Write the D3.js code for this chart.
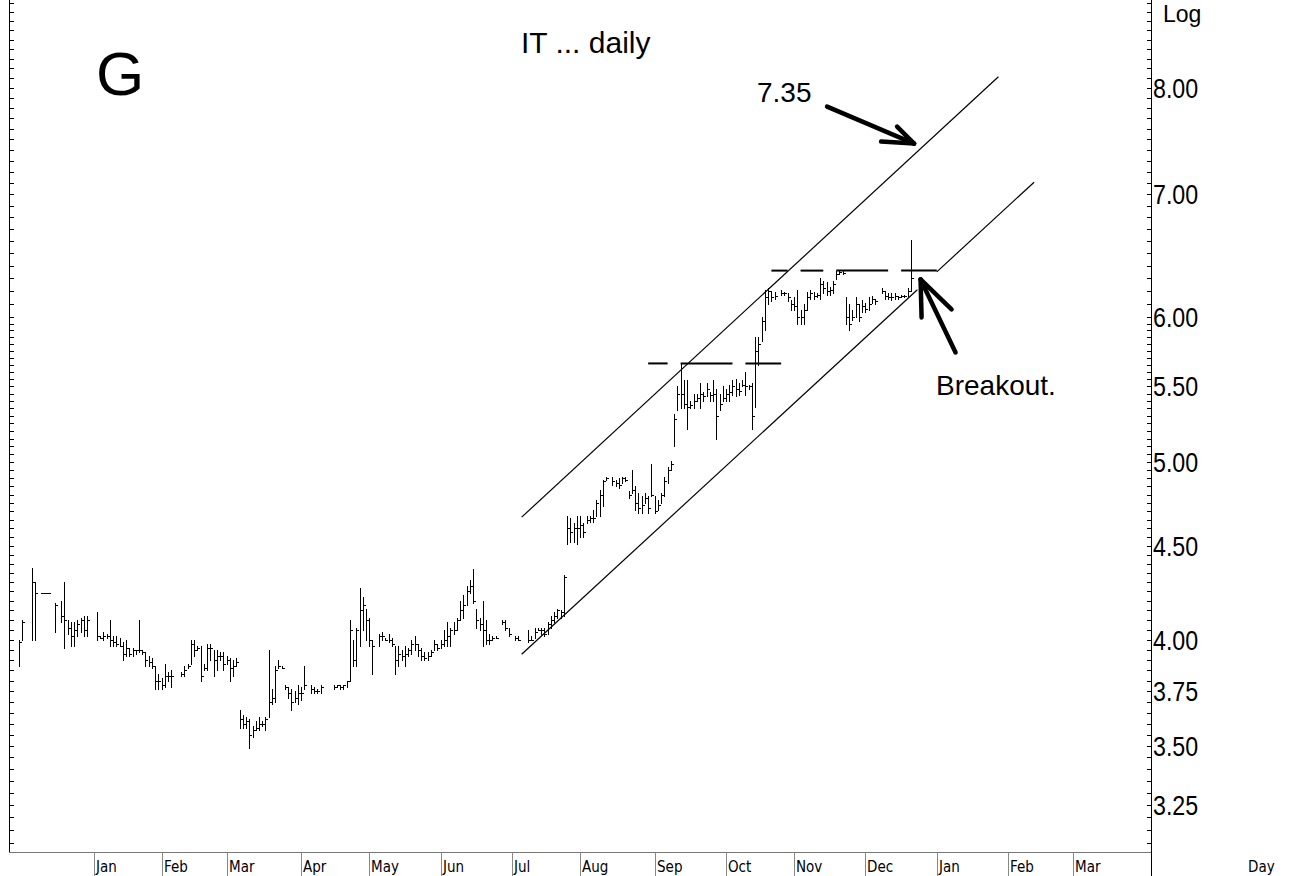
<!DOCTYPE html>
<html><head><meta charset="utf-8">
<script src="https://cdn.jsdelivr.net/npm/d3@7"></script>
<style>
html,body{margin:0;padding:0;background:#fff;}
svg{display:block;}
</style></head>
<body><svg id="chart" width="1293" height="876"></svg>
<script>
// ---------------- DATA ----------------
const firstDay = "2004-12-01";   // first trading day shown
const high = [
4.00,4.10,null,null,4.38,4.30,null,4.24,4.24,4.24,
null,4.19,null,4.20,4.30,4.10,4.09,4.09,4.10,4.11,
4.12,4.12,null,null,4.14,4.02,4.04,4.03,4.10,4.02,
4.02,4.01,3.99,4.00,3.96,3.96,3.95,4.10,3.95,3.94,
3.92,3.91,3.87,3.83,3.81,3.88,3.84,3.85,null,null,
3.84,3.87,3.88,4.00,4.00,3.97,3.97,3.88,3.98,3.98,
3.95,3.95,3.94,3.94,3.92,3.91,3.90,3.91,3.66,3.64,
3.63,3.62,3.59,3.61,3.63,3.61,3.63,3.95,3.76,3.87,
3.90,3.87,3.78,3.77,3.76,3.75,3.78,3.77,3.87,null,
3.78,3.77,3.76,3.78,null,null,null,3.78,3.78,3.78,
3.78,3.80,4.10,4.00,4.06,4.27,4.22,4.16,4.11,4.00,
null,4.03,4.04,4.01,4.03,4.01,3.97,3.97,3.95,3.97,
3.96,4.00,4.02,3.98,3.96,3.94,3.94,3.95,4.00,3.98,
4.00,4.05,4.09,4.06,4.09,4.11,4.20,4.23,4.28,4.31,
4.37,4.16,4.11,4.20,4.10,4.03,4.02,4.02,null,4.10,
4.10,4.06,null,4.02,4.02,null,null,4.05,4.02,4.06,
4.06,4.06,4.06,4.09,4.12,4.14,4.16,4.15,4.34,4.67,
4.66,4.63,4.67,4.67,4.63,4.67,4.67,4.71,4.77,4.83,
4.89,4.91,null,4.91,4.89,4.90,4.91,4.91,4.82,4.95,
4.85,4.81,4.79,4.81,4.79,4.99,4.79,4.77,4.81,4.91,
4.97,5.01,5.31,5.50,5.66,5.54,5.54,5.40,5.45,5.45,
5.52,5.46,5.52,5.46,5.54,5.48,5.45,5.50,5.48,5.51,
5.54,5.55,5.52,5.54,5.60,5.51,5.52,5.85,5.85,6.00,
6.21,6.22,6.20,6.19,null,6.21,6.19,6.18,6.13,6.15,
6.21,6.05,6.10,6.19,6.21,6.19,6.18,6.30,6.28,6.27,
6.23,6.28,6.36,6.36,6.36,6.15,6.10,6.05,6.15,6.10,
6.13,6.11,6.15,6.16,6.14,null,6.22,6.20,6.18,6.18,
6.18,6.16,6.17,6.17,6.22,6.61
];
const low = [
3.87,4.00,null,null,4.00,4.00,null,4.24,4.24,4.24,
null,4.04,null,4.09,3.96,4.03,3.97,3.97,4.02,4.04,
4.02,4.02,null,null,4.00,4.01,4.00,4.01,3.97,3.97,
3.97,3.97,3.90,3.92,3.92,3.92,3.93,3.94,3.93,3.87,
3.87,3.86,3.76,3.76,3.76,3.77,3.80,3.77,null,null,
3.82,3.82,3.86,3.88,3.92,3.95,3.80,3.85,3.85,3.90,
3.82,3.85,3.90,3.85,3.88,3.80,3.82,3.87,3.58,3.58,
3.58,3.49,3.54,3.57,3.57,3.59,3.57,3.63,3.69,3.70,
3.86,3.86,3.76,3.72,3.66,3.70,3.69,3.71,3.76,null,
3.74,3.74,3.74,3.74,null,null,null,3.76,3.77,3.76,
3.76,3.77,3.80,3.87,3.87,3.97,4.05,4.00,3.97,3.83,
null,3.97,4.00,4.00,3.99,3.97,3.83,3.87,3.90,3.87,
3.92,3.93,3.95,3.92,3.90,3.90,3.90,3.92,3.95,3.95,
3.96,3.97,3.97,3.97,4.03,4.05,4.10,4.11,4.18,4.24,
4.19,4.06,4.05,3.97,3.98,3.98,4.00,4.01,null,4.08,
4.05,4.02,null,4.00,4.00,null,null,3.99,4.00,4.01,
4.05,4.03,4.02,4.03,4.06,4.09,4.11,4.11,4.12,4.51,
4.52,4.52,4.51,4.55,4.55,4.63,4.64,4.64,4.67,4.67,
4.73,4.89,null,4.86,4.85,4.84,4.87,4.88,4.78,4.81,
4.71,4.69,4.69,4.75,4.69,4.79,4.69,4.71,4.75,4.79,
4.87,4.95,5.10,5.34,5.35,5.35,5.21,5.35,5.35,5.40,
5.35,5.40,5.43,5.40,5.40,5.15,5.34,5.40,5.40,5.40,
5.44,5.43,5.44,5.50,5.44,5.48,5.21,5.36,5.65,5.82,
5.90,6.10,6.12,6.14,null,6.17,6.17,6.12,6.05,6.05,
5.95,5.95,5.95,6.05,6.14,6.14,6.15,6.14,6.18,6.17,
6.17,6.18,6.29,6.33,6.33,5.95,5.90,5.98,6.00,5.97,
6.04,6.04,6.05,6.11,6.10,null,6.18,6.14,6.14,6.13,
6.14,6.14,6.15,6.15,6.16,6.20
];
const close = [
3.99,4.09,null,null,4.30,4.24,null,4.24,4.24,4.24,
null,4.18,null,4.12,4.10,4.06,4.02,4.05,4.08,4.10,
4.05,4.10,null,null,4.02,4.01,4.02,4.02,4.00,3.99,
3.98,3.97,3.93,3.96,3.93,3.95,3.95,3.95,3.94,3.90,
3.89,3.87,3.80,3.80,3.78,3.82,3.82,3.82,null,null,
3.83,3.85,3.87,3.98,3.95,3.96,3.82,3.86,3.96,3.96,
3.90,3.92,3.92,3.88,3.90,3.86,3.87,3.89,3.62,3.60,
3.61,3.55,3.57,3.58,3.60,3.60,3.62,3.70,3.72,3.85,
3.87,3.86,3.77,3.74,3.70,3.72,3.74,3.74,3.78,null,
3.76,3.75,3.75,3.77,null,null,null,3.77,3.78,3.77,
3.78,3.80,4.05,3.90,4.05,4.15,4.18,4.10,4.00,3.97,
null,4.02,4.02,4.00,4.00,3.98,3.90,3.93,3.92,3.93,
3.95,3.98,3.98,3.95,3.92,3.91,3.92,3.94,3.98,3.96,
3.98,4.00,4.02,4.05,4.05,4.10,4.15,4.18,4.25,4.28,
4.20,4.10,4.08,4.05,4.00,4.00,4.01,4.01,null,4.09,
4.06,4.03,null,4.01,4.00,null,null,4.00,4.00,4.04,
4.05,4.05,4.03,4.08,4.10,4.12,4.15,4.14,4.33,4.60,
4.58,4.60,4.60,4.62,4.58,4.65,4.66,4.66,4.75,4.80,
4.88,4.90,null,4.88,4.87,4.86,4.90,4.89,4.80,4.83,
4.75,4.72,4.74,4.78,4.72,4.80,4.70,4.74,4.80,4.88,
4.95,4.99,5.28,5.45,5.45,5.38,5.36,5.37,5.40,5.42,
5.45,5.43,5.48,5.44,5.45,5.30,5.38,5.42,5.45,5.46,
5.50,5.48,5.47,5.51,5.50,5.50,5.30,5.75,5.80,5.97,
6.15,6.20,6.15,6.16,null,6.18,6.18,6.15,6.10,6.08,
6.00,6.00,6.05,6.15,6.18,6.16,6.17,6.25,6.22,6.20,
6.21,6.25,6.33,6.35,6.34,6.00,5.95,6.00,6.10,6.00,
6.08,6.06,6.10,6.14,6.12,null,6.20,6.16,6.15,6.15,
6.16,6.15,6.16,6.16,6.20,6.30
];
const priceLabels = [3.25, 3.5, 3.75, 4, 4.5, 5, 5.5, 6, 7, 8];
const monthStarts = ["2005-01-01","2005-02-01","2005-03-01","2005-04-01","2005-05-01","2005-06-01",
  "2005-07-01","2005-08-01","2005-09-01","2005-10-01","2005-11-01","2005-12-01",
  "2006-01-01","2006-02-01","2006-03-01"];
const monthLabels = ["Jan","Feb","Mar","Apr","May","Jun","Jul","Aug","Sep","Oct","Nov","Dec","Jan","Feb","Mar"];
// channel lines [date, price] pairs
const upperChannel = [["2005-07-06", 4.666], ["2006-01-27", 8.114]];
const lowerChannel = [
  [["2005-07-06", 3.928], ["2005-12-23", 6.209]],
  [["2006-01-02", 6.35], ["2006-02-13", 7.107]]
];
// horizontal resistance dashes [from, to, price]
const resistance = [
  ["2005-08-30","2005-09-07",5.66],["2005-09-13","2005-10-05",5.66],["2005-10-11","2005-10-26",5.66],
  ["2005-10-21","2005-10-28",6.36],["2005-11-03","2005-11-14",6.36],["2005-11-18","2005-12-12",6.36],
  ["2005-12-16","2006-01-02",6.36]
];
const arrowTargets = [["2005-12-22", 7.46], ["2005-12-26", 6.29]];

// ---------------- SETUP ----------------
const W = 1293, H = 876;
const plotLeft = 9, plotRight = 1151, plotTop = 0, plotBottom = 852;
const svg = d3.select("#chart");
const parse = d3.timeParse("%Y-%m-%d");

const tradingDays = d3.timeDays(parse(firstDay), parse("2006-05-01"))
  .filter(d => d.getDay() !== 0 && d.getDay() !== 6);
const dayIndex = s => d3.bisector(d => d).left(tradingDays, parse(s));

const x = d3.scaleLinear().domain([0, dayIndex("2006-03-01")]).range([19, 1073]);
const y = d3.scaleLog().domain([3.0638, 8.935]).range([plotBottom, plotTop]);
const xd = s => x(dayIndex(s));

// clip
svg.append("defs").append("clipPath").attr("id", "clip")
  .append("rect").attr("x", plotLeft).attr("y", plotTop)
  .attr("width", plotRight - plotLeft).attr("height", plotBottom - plotTop);

const plot = svg.append("g").attr("clip-path", "url(#clip)");

// bars
const bars = high.map((h, i) => ({i, h, l: low[i], c: close[i]})).filter(d => d.h != null);
const bg = plot.append("g").attr("stroke", "#000").attr("stroke-width", 1).attr("shape-rendering", "crispEdges");
bars.forEach(d => {
  const px = Math.round(x(d.i)) + 0.5;
  let y1 = Math.round(y(d.h)), y2 = Math.round(y(d.l));
  if (y2 - y1 >= 1) bg.append("line").attr("x1", px).attr("x2", px).attr("y1", y1).attr("y2", y2 + 1);
  const yc = Math.round(y(d.c)) + 0.5;
  bg.append("line").attr("x1", px - (y2 - y1 < 1 ? 1.5 : 0)).attr("x2", px + 2.5).attr("y1", yc).attr("y2", yc);
});

// channel lines
const line = d3.line().x(p => xd(p[0])).y(p => y(p[1]));
plot.append("path").attr("d", line(upperChannel)).attr("fill", "none").attr("stroke", "#000").attr("stroke-width", 1.2);
lowerChannel.forEach(seg => plot.append("path").attr("d", line(seg)).attr("fill", "none").attr("stroke", "#000").attr("stroke-width", 1.2));

// resistance dashes
resistance.forEach(r => {
  plot.append("line").attr("x1", xd(r[0])).attr("x2", xd(r[1]))
    .attr("y1", y(r[2])).attr("y2", y(r[2]))
    .attr("stroke", "#000").attr("stroke-width", 2);
});

// arrows (tip anchored on data point, drawn with pixel offsets)
const arrowShapes = [
  {tail: [-87, -37], barbs: [[-33, -2], [-17, -17]]},
  {tail: [35, 73], barbs: [[1, 38], [31, 30]]}
];
arrowTargets.forEach((t, k) => {
  const tx = xd(t[0]), ty = y(t[1]);
  const s = arrowShapes[k];
  const g = svg.append("g").attr("stroke", "#000").attr("stroke-width", 4.5).attr("stroke-linecap", "round").attr("fill", "none");
  g.append("line").attr("x1", tx + s.tail[0]).attr("y1", ty + s.tail[1]).attr("x2", tx).attr("y2", ty);
  s.barbs.forEach(b => g.append("line").attr("x1", tx + b[0]).attr("y1", ty + b[1]).attr("x2", tx).attr("y2", ty));
});

// axes frame
const axisG = svg.append("g").attr("shape-rendering", "crispEdges");
axisG.append("line").attr("x1", plotLeft + 0.5).attr("x2", plotLeft + 0.5).attr("y1", 0).attr("y2", plotBottom).attr("stroke", "#000");
axisG.append("line").attr("x1", plotRight + 0.5).attr("x2", plotRight + 0.5).attr("y1", 0).attr("y2", H).attr("stroke", "#000");
axisG.append("line").attr("x1", plotLeft).attr("x2", plotRight).attr("y1", plotBottom + 0.5).attr("y2", plotBottom + 0.5).attr("stroke", "#777");

// minor ticks on both vertical axes
const minorTicks = [];
for (let v = 3.10; v < 6.0; v += 0.05) minorTicks.push(+v.toFixed(2));
for (let v = 6.0; v <= 8.95; v += 0.1) minorTicks.push(+v.toFixed(2));
minorTicks.forEach(v => {
  const ty = Math.round(y(v)) + 0.5;
  if (ty < 0 || ty > plotBottom) return;
  axisG.append("line").attr("x1", plotRight - 4).attr("x2", plotRight).attr("y1", ty).attr("y2", ty).attr("stroke", "#000");
  axisG.append("line").attr("x1", plotLeft).attr("x2", plotLeft + 5).attr("y1", ty).attr("y2", ty).attr("stroke", "#000");
});

// price labels (narrow, tall digits)
svg.append("g").selectAll("text").data(priceLabels).join("text")
  .attr("transform", d => `translate(${plotRight + 2},${y(d) + 10}) scale(0.83,1)`)
  .attr("font-family", "'Liberation Sans',Arial,sans-serif")
  .attr("font-size", 28).attr("fill", "#000")
  .text(d => d3.format(".2f")(d));

svg.append("text").attr("x", 1163).attr("y", 22)
  .attr("font-family", "'Liberation Sans',Arial,sans-serif").attr("font-size", 23).text("Log");

// month separators and labels
const mg = svg.append("g");
monthStarts.forEach((m, k) => {
  const mx = Math.round(xd(m)) + 0.5;
  mg.append("line").attr("x1", mx).attr("x2", mx).attr("y1", plotBottom).attr("y2", H)
    .attr("stroke", "#888").attr("shape-rendering", "crispEdges");
  mg.append("text").attr("x", mx + 1.5).attr("y", 872)
    .attr("font-family", "'DejaVu Sans Condensed','DejaVu Sans',sans-serif")
    .attr("font-stretch", "condensed")
    .attr("font-size", 15).attr("fill", "#000").text(monthLabels[k]);
});
svg.append("text").attr("x", 1248).attr("y", 872)
  .attr("font-family", "'DejaVu Sans Condensed','DejaVu Sans',sans-serif")
  .attr("font-stretch", "condensed").attr("font-size", 15).text("Day");

// annotations text
const sans = "'Liberation Sans',Arial,sans-serif";
svg.append("text").attr("x", 96).attr("y", 95).attr("font-family", sans).attr("font-size", 62).text("G");
svg.append("text").attr("x", 521).attr("y", 53).attr("font-family", sans).attr("font-size", 30).text("IT ... daily");
svg.append("text").attr("x", 757).attr("y", 102).attr("font-family", sans).attr("font-size", 28).text("7.35");
svg.append("text").attr("x", 936).attr("y", 395).attr("font-family", sans).attr("font-size", 28).text("Breakout.");
</script>
</body></html>
